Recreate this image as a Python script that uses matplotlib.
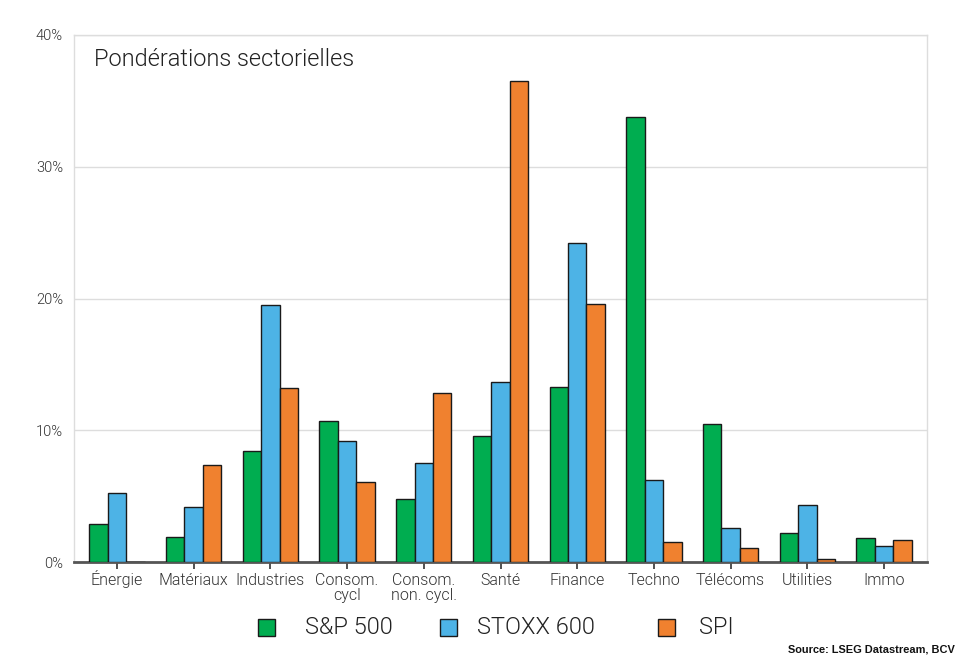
import matplotlib
matplotlib.use("Agg")
import matplotlib.pyplot as plt
import matplotlib.transforms as mtransforms
import numpy as np
from matplotlib.patches import Rectangle

categories = ["Énergie", "Matériaux", "Industries", "Consom.\ncycl", "Consom.\nnon. cycl.",
              "Santé", "Finance", "Techno", "Télécoms", "Utilities", "Immo"]
sp500 = [2.9, 1.9, 8.4, 10.7, 4.8, 9.6, 13.3, 33.8, 10.5, 2.2, 1.8]
stoxx600 = [5.2, 4.2, 19.5, 9.2, 7.5, 13.7, 24.2, 6.2, 2.6, 4.3, 1.2]
spi = [0.0, 7.4, 13.2, 6.1, 12.8, 36.5, 19.6, 1.5, 1.1, 0.2, 1.7]
series_names = ["S&P 500", "STOXX 600", "SPI"]
yticks = [0, 10, 20, 30, 40]

colors = ["#00AD50", "#4DB3E6", "#F0812F"]

plt.rcParams['font.family'] = ['Roboto', 'DejaVu Sans']

W, H = 962, 661
fig = plt.figure(figsize=(W/100, H/100), dpi=100)
ax = fig.add_axes([74/W, 1-562/H, (927-74)/W, (562-35)/H])

x = np.arange(len(categories))
w = 0.24
for i, (vals, c) in enumerate(zip([sp500, stoxx600, spi], colors)):
    ax.bar(x + (i-1)*w, vals, width=w, color=c, edgecolor="#1a1a1a", linewidth=1.0, zorder=3)

ax.set_xlim(-0.56, len(categories)-1+0.56)
ax.set_ylim(0, 40)
ax.set_yticks(yticks)
ax.set_yticklabels([f"{t}%" for t in yticks], fontsize=10.5, color="#333333", fontweight=300)
ax.set_xticks(x)
ax.set_xticklabels(categories, fontsize=11.5, color="#333333", fontweight=300, linespacing=0.95)
ax.yaxis.grid(True, color="#dddddd", linewidth=1, zorder=0)
ax.set_axisbelow(True)
for s in ["top", "right", "left"]:
    ax.spines[s].set_color("#dddddd")
    ax.spines[s].set_linewidth(1)
ax.spines["bottom"].set_color("#555555")
ax.spines["bottom"].set_linewidth(2)
ax.tick_params(axis="y", length=0, pad=8)
ax.tick_params(axis="x", length=5, width=1.2, color="#333333", pad=3, direction="out")

# align the accented capital label with the others
lbl0 = ax.get_xticklabels()[0]
lbl0.set_transform(lbl0.get_transform() + mtransforms.ScaledTranslation(0, 3/100, fig.dpi_scale_trans))

ax.text(94/W, 1-60/H, "Pondérations sectorielles", transform=fig.transFigure,
        fontsize=17, fontweight=300, color="#222222", va="center", ha="left")

# legend (manual placement to match reference spacing)
sq_x = [258, 440, 658]
txt_x = [305, 477, 699]
for name, c, sx, tx in zip(series_names, colors, sq_x, txt_x):
    fig.add_artist(Rectangle((sx/W, 1-636/H), 17/W, 17/H, transform=fig.transFigure,
                             facecolor=c, edgecolor="#1a1a1a", linewidth=1))
    fig.text(tx/W, 1-627/H, name, fontsize=17, fontweight=300, color="#222222",
             ha="left", va="center")

fig.text(955/W, 1-650/H, "Source: LSEG Datastream, BCV", ha="right", va="center",
         fontsize=7.9, fontweight="bold", family=['Liberation Sans Narrow', 'Liberation Sans', 'DejaVu Sans'],
         color="#111111")

fig.savefig("out.png", dpi=100)
